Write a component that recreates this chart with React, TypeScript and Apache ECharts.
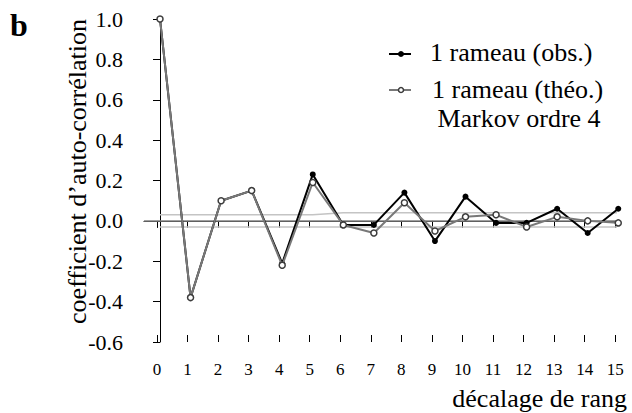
import React, { useEffect, useRef } from "react";
import * as echarts from "echarts";

const lags: number[] = [0, 1, 2, 3, 4, 5, 6, 7, 8, 9, 10, 11, 12, 13, 14, 15];
const obsValues: number[] = [1.0, -0.38, 0.1, 0.15, -0.21, 0.23, -0.02, -0.02, 0.14, -0.1, 0.12, -0.01, -0.01, 0.06, -0.06, 0.06];
const theoValues: number[] = [1.0, -0.38, 0.1, 0.15, -0.22, 0.19, -0.02, -0.06, 0.09, -0.05, 0.02, 0.03, -0.03, 0.02, 0.0, -0.01];
const upperBand: number[] = [0.03, 0.03, 0.03, 0.03, 0.03, 0.03, 0.04, 0.04, 0.04, 0.04, 0.04, 0.04, 0.04, 0.04, 0.04, 0.04];
const lowerBand: number[] = [-0.03, -0.03, -0.03, -0.03, -0.03, -0.03, -0.03, -0.03, -0.03, -0.03, -0.03, -0.03, -0.03, -0.03, -0.03, -0.03];
const yTicks: number[] = [-0.6, -0.4, -0.2, 0.0, 0.2, 0.4, 0.6, 0.8, 1.0];

const X_MIN = -0.524;
const X_MAX = 14.9;
const ZERO_END = 15.45;
const TICK_SHIFT = 0.1;

const SERIF = "Liberation Serif, serif";

export default function App() {
  const ref = useRef<HTMLDivElement>(null);
  useEffect(() => {
    if (!ref.current) return;
    const chart = echarts.init(ref.current, null, { renderer: "svg" });
    const tickVals = lags.map((l) => l - TICK_SHIFT);
    const option: any = {
      animation: false,
      backgroundColor: "#ffffff",
      grid: { left: 144, right: 632 - 615.2, top: 19, bottom: 71 },
      xAxis: [
        {
          type: "value",
          position: "bottom",
          min: X_MIN,
          max: X_MAX,
          axisLine: { show: true, lineStyle: { color: "#000", width: 1 } },
          axisTick: { show: true, inside: false, length: 7, customValues: tickVals, lineStyle: { color: "#000", width: 1 } },
          axisLabel: {
            show: true,
            customValues: tickVals,
            formatter: (v: number) => String(Math.round(v + TICK_SHIFT)),
            fontFamily: SERIF,
            fontSize: 17,
            color: "#000",
            margin: 19,
          },
          splitLine: { show: false },
        },
        {
          type: "value",
          position: "bottom",
          min: X_MIN,
          max: X_MAX,
          axisLine: { show: false },
          axisTick: { show: true, inside: true, length: 7, customValues: tickVals, lineStyle: { color: "#000", width: 1 } },
          axisLabel: { show: false },
          splitLine: { show: false },
        },
      ],
      yAxis: {
        type: "value",
        min: yTicks[0],
        max: yTicks[yTicks.length - 1],
        interval: 0.2,
        axisLine: { show: true, lineStyle: { color: "#000", width: 1 } },
        axisTick: { show: true, inside: false, length: 7, lineStyle: { color: "#000", width: 1 } },
        axisLabel: {
          fontFamily: SERIF,
          fontSize: 22,
          color: "#000",
          margin: 21,
          formatter: (v: number) => (Math.abs(v) < 1e-9 ? "0.0" : v.toFixed(1)),
        },
        splitLine: { show: false },
      },
      series: [
        {
          type: "line",
          data: lags.map((l, i) => [l, upperBand[i]]),
          symbol: "none",
          clip: false,
          lineStyle: { color: "#c4c4c4", width: 1.5 },
          z: 1,
        },
        {
          type: "line",
          data: lags.map((l, i) => [l, lowerBand[i]]),
          symbol: "none",
          clip: false,
          lineStyle: { color: "#c4c4c4", width: 1.5 },
          z: 1,
        },
        {
          type: "line",
          data: [
            [X_MIN, 0],
            [ZERO_END, 0],
          ],
          symbol: "none",
          clip: false,
          lineStyle: { color: "#808080", width: 1.5 },
          z: 2,
        },
        {
          name: "1 rameau (obs.)",
          type: "line",
          data: lags.map((l, i) => [l, obsValues[i]]),
          symbol: "circle",
          symbolSize: 6,
          clip: false,
          lineStyle: { color: "#000", width: 2 },
          itemStyle: { color: "#000" },
          z: 3,
        },
        {
          name: "1 rameau (théo.)",
          type: "line",
          data: lags.map((l, i) => [l, theoValues[i]]),
          symbol: "circle",
          symbolSize: 6,
          clip: false,
          lineStyle: { color: "#787878", width: 2 },
          itemStyle: { color: "#ffffff", borderColor: "#3c3c3c", borderWidth: 1.5 },
          z: 4,
        },
      ],
      graphic: [
        { type: "text", x: 19, y: 25, style: { text: "b", fontFamily: SERIF, fontWeight: "bold", fontSize: 32, fill: "#000", align: "center", verticalAlign: "middle" } },
        { type: "text", x: 77, y: 171.5, rotation: Math.PI / 2, style: { text: "coefficient d’auto-corrélation", fontFamily: SERIF, fontSize: 26, fill: "#000", align: "center", verticalAlign: "middle" } },
        { type: "text", x: 627, y: 398, style: { text: "décalage de rang", fontFamily: SERIF, fontSize: 26, fill: "#000", align: "right", verticalAlign: "middle" } },
        { type: "line", shape: { x1: 389, y1: 54, x2: 411, y2: 54 }, style: { stroke: "#000", lineWidth: 2 } },
        { type: "circle", shape: { cx: 401, cy: 54, r: 3 }, style: { fill: "#000" } },
        { type: "text", x: 430, y: 52, style: { text: "1 rameau (obs.)", fontFamily: SERIF, fontSize: 26, fill: "#000", align: "left", verticalAlign: "middle" } },
        { type: "line", shape: { x1: 389, y1: 90, x2: 411, y2: 90 }, style: { stroke: "#787878", lineWidth: 2 } },
        { type: "circle", shape: { cx: 401, cy: 90, r: 2.5 }, style: { fill: "#fff", stroke: "#3c3c3c", lineWidth: 1.5 } },
        { type: "text", x: 432, y: 89, style: { text: "1 rameau (théo.)", fontFamily: SERIF, fontSize: 26, fill: "#000", align: "left", verticalAlign: "middle" } },
        { type: "text", x: 519, y: 118, style: { text: "Markov ordre 4", fontFamily: SERIF, fontSize: 26, fill: "#000", align: "center", verticalAlign: "middle" } },
      ],
    };
    chart.setOption(option);
    return () => chart.dispose();
  }, []);
  return (
    <div
      ref={ref}
      style={{ position: "absolute", left: 0, top: 0, width: 632, height: 413, background: "#fff" }}
    />
  );
}
